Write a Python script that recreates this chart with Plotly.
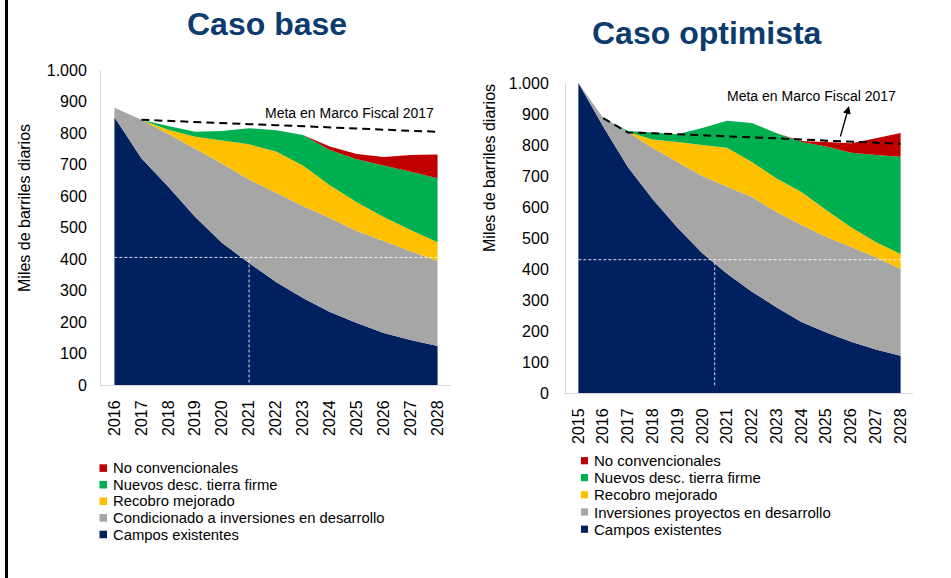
import plotly.graph_objects as go

W, H = 951, 578
FONT = "Liberation Sans, Arial, sans-serif"

# ---------------- data ----------------
series_names_base = ["Campos existentes", "Condicionado a inversiones en desarrollo",
                     "Recobro mejorado", "Nuevos desc. tierra firme", "No convencionales"]
series_names_opt = ["Campos existentes", "Inversiones proyectos en desarrollo",
                    "Recobro mejorado", "Nuevos desc. tierra firme", "No convencionales"]
colors = ["#002060", "#A6A6A6", "#FFC000", "#00B050", "#C00000"]

years_base = [2016, 2017, 2018, 2019, 2020, 2021, 2022, 2023, 2024, 2025, 2026, 2027, 2028]
base_existentes = [850, 720, 629, 533, 451, 387, 327, 276, 232, 197, 165, 143, 124]
base_condicionado = [30, 122, 168, 217, 251, 265, 283, 292, 298, 292, 292, 282, 270]
base_recobro = [0, 0, 13, 38, 74, 112, 131, 129, 104, 91, 76, 67, 59]
base_nuevos = [0, 0, 12, 16, 30, 51, 68, 97, 112, 137, 164, 185, 203]
base_noconv = [0, 0, 0, 0, 0, 0, 0, 0, 11, 16, 27, 53, 76]
meta_years_base = [2017, 2018, 2019, 2020, 2021, 2022, 2023, 2024, 2025, 2026, 2027, 2028]
meta_base = [842, 838, 835, 832, 828, 825, 821, 818, 814, 811, 807, 804]

years_opt = [2015, 2016, 2017, 2018, 2019, 2020, 2021, 2022, 2023, 2024, 2025, 2026, 2027, 2028]
opt_existentes = [1000, 860, 728, 625, 533, 451, 385, 327, 276, 229, 195, 165, 140, 120]
opt_inversiones = [0, 27, 114, 165, 212, 249, 280, 305, 308, 313, 308, 306, 298, 280]
opt_recobro = [0, 0, 0, 28, 65, 100, 126, 113, 108, 106, 87, 64, 49, 48]
opt_nuevos = [0, 0, 3, 22, 25, 55, 87, 126, 146, 162, 205, 240, 281, 314]
opt_noconv = [0, 0, 0, 0, 0, 0, 0, 0, 0, 3, 15, 31, 54, 77]
meta_years_opt = [2016, 2017, 2018, 2019, 2020, 2021, 2022, 2023, 2024, 2025, 2026, 2027, 2028]
meta_opt = [887, 840, 838, 835, 832, 828, 825, 821, 818, 814, 811, 807, 804]

# reference (white dashed) lines
ref_base_year, ref_base_level = 2021, 405
ref_opt_year, ref_opt_level = 2020.5, 430

y_ticks = [0, 100, 200, 300, 400, 500, 600, 700, 800, 900, 1000]
y_ticktext = ["0", "100", "200", "300", "400", "500", "600", "700", "800", "900", "1.000"]
meta_label = "Meta en Marco Fiscal 2017"
y_title = "Miles de barriles diarios"
titles = ["Caso base", "Caso optimista"]


def px(x):
    return x / W


def py(y):
    return 1 - y / H


fig = go.Figure()

base_series = [base_existentes, base_condicionado, base_recobro, base_nuevos, base_noconv]
opt_series = [opt_existentes, opt_inversiones, opt_recobro, opt_nuevos, opt_noconv]

for name, vals, col in zip(series_names_base, base_series, colors):
    fig.add_trace(go.Scatter(x=years_base, y=vals, name=name, stackgroup="base",
                             mode="none", fillcolor=col, xaxis="x", yaxis="y",
                             showlegend=False))
for name, vals, col in zip(series_names_opt, opt_series, colors):
    fig.add_trace(go.Scatter(x=years_opt, y=vals, name=name, stackgroup="opt",
                             mode="none", fillcolor=col, xaxis="x2", yaxis="y2",
                             showlegend=False))

fig.add_trace(go.Scatter(x=meta_years_base, y=meta_base, mode="lines", name=meta_label,
                         line=dict(color="black", width=2, dash="8px,5px"),
                         xaxis="x", yaxis="y", showlegend=False))
fig.add_trace(go.Scatter(x=meta_years_opt, y=meta_opt, mode="lines", name=meta_label,
                         line=dict(color="black", width=2, dash="8px,5px"),
                         xaxis="x2", yaxis="y2", showlegend=False))

ref_line = dict(color="rgba(255,255,255,0.85)", width=1, dash="3px,2px")
shapes = [
    dict(type="line", xref="x", yref="y", x0=years_base[0], x1=years_base[-1],
         y0=ref_base_level, y1=ref_base_level, line=ref_line),
    dict(type="line", xref="x", yref="y", x0=ref_base_year, x1=ref_base_year,
         y0=8, y1=ref_base_level, line=ref_line),
    dict(type="line", xref="x2", yref="y2", x0=years_opt[0], x1=years_opt[-1] + 0.5,
         y0=ref_opt_level, y1=ref_opt_level, line=ref_line),
    dict(type="line", xref="x2", yref="y2", x0=ref_opt_year, x1=ref_opt_year,
         y0=25, y1=ref_opt_level, line=ref_line),
    # left frame line
    dict(type="line", xref="paper", yref="paper", x0=px(6.5), x1=px(6.5), y0=0, y1=1,
         line=dict(color="black", width=3)),
]

annotations = [
    dict(text="<b>%s</b>" % titles[0], x=px(266.5), y=py(24), xref="paper", yref="paper",
         showarrow=False, xanchor="center", yanchor="middle",
         font=dict(size=32, color="#0D3B6E", family=FONT)),
    dict(text="<b>%s</b>" % titles[1], x=px(707), y=py(33), xref="paper", yref="paper",
         showarrow=False, xanchor="center", yanchor="middle",
         font=dict(size=32, color="#0D3B6E", family=FONT)),
    dict(text=y_title, x=px(25), y=py(208), xref="paper", yref="paper", textangle=-90,
         showarrow=False, xanchor="center", yanchor="middle",
         font=dict(size=16, color="black", family=FONT)),
    dict(text=y_title, x=px(489), y=py(168), xref="paper", yref="paper", textangle=-90,
         showarrow=False, xanchor="center", yanchor="middle",
         font=dict(size=16, color="black", family=FONT)),
    dict(text=meta_label, x=px(349), y=py(113), xref="paper", yref="paper",
         showarrow=False, xanchor="center", yanchor="middle",
         font=dict(size=14, color="black", family=FONT)),
    dict(text=meta_label, x=px(811.5), y=py(96), xref="paper", yref="paper",
         showarrow=False, xanchor="center", yanchor="middle",
         font=dict(size=14, color="black", family=FONT)),
    dict(text=" ", x=px(849), y=py(106), xref="paper", yref="paper",
         showarrow=True, ax=-11, ay=39, arrowhead=2, arrowsize=1.2, arrowwidth=1.3,
         arrowcolor="black", standoff=0, startstandoff=0),
]

# custom legends (order top -> bottom = reversed stacking)
leg_base_rows = [468.1, 484.7, 501.3, 517.9, 534.5]
leg_opt_rows = [460.7, 477.6, 494.8, 512.0, 529.2]
for i, idx in enumerate(range(4, -1, -1)):
    yb = leg_base_rows[i]
    shapes.append(dict(type="rect", xref="paper", yref="paper",
                       x0=px(99.5), x1=px(107), y0=py(yb + 3.8), y1=py(yb - 3.8),
                       fillcolor=colors[idx], line=dict(width=0)))
    annotations.append(dict(text=series_names_base[idx], x=px(110.5), y=py(yb),
                            xref="paper", yref="paper", showarrow=False,
                            xanchor="left", yanchor="middle",
                            font=dict(size=14.8, color="black", family=FONT)))
    yo = leg_opt_rows[i]
    shapes.append(dict(type="rect", xref="paper", yref="paper",
                       x0=px(581), x1=px(588), y0=py(yo + 3.6), y1=py(yo - 3.6),
                       fillcolor=colors[idx], line=dict(width=0)))
    annotations.append(dict(text=series_names_opt[idx], x=px(592), y=py(yo),
                            xref="paper", yref="paper", showarrow=False,
                            xanchor="left", yanchor="middle",
                            font=dict(size=15, color="black", family=FONT)))

axis_common = dict(showgrid=False, zeroline=False, showline=True, linecolor="#D9D9D9",
                   linewidth=1, ticks="", automargin=False,
                   tickfont=dict(size=16, color="black", family=FONT))

fig.update_layout(
    width=W, height=H,
    margin=dict(l=0, r=0, t=0, b=0, pad=0, autoexpand=False),
    paper_bgcolor="white", plot_bgcolor="white",
    showlegend=False,
    xaxis=dict(domain=[px(101), px(451)], range=[2015.5, 2028.5], anchor="y",
               tickvals=years_base, ticktext=[str(y) for y in years_base], tickangle=-90,
               ticklabelstandoff=8, **axis_common),
    yaxis=dict(domain=[py(385), py(70)], range=[0, 1000], anchor="x",
               tickvals=y_ticks, ticktext=y_ticktext, ticklabelstandoff=10, **axis_common),
    xaxis2=dict(domain=[px(566), px(913)], range=[2014.5, 2028.5], anchor="y2",
                tickvals=years_opt, ticktext=[str(y) for y in years_opt], tickangle=-90,
                ticklabelstandoff=8, **axis_common),
    yaxis2=dict(domain=[py(393), py(83)], range=[0, 1000], anchor="x2",
                tickvals=y_ticks, ticktext=y_ticktext, ticklabelstandoff=13, **axis_common),
    shapes=shapes,
    annotations=annotations,
    font=dict(family=FONT),
)

fig.write_html("out.html", config={"displayModeBar": False},
               post_script="document.body.style.margin='0';document.body.style.overflow='hidden';")
